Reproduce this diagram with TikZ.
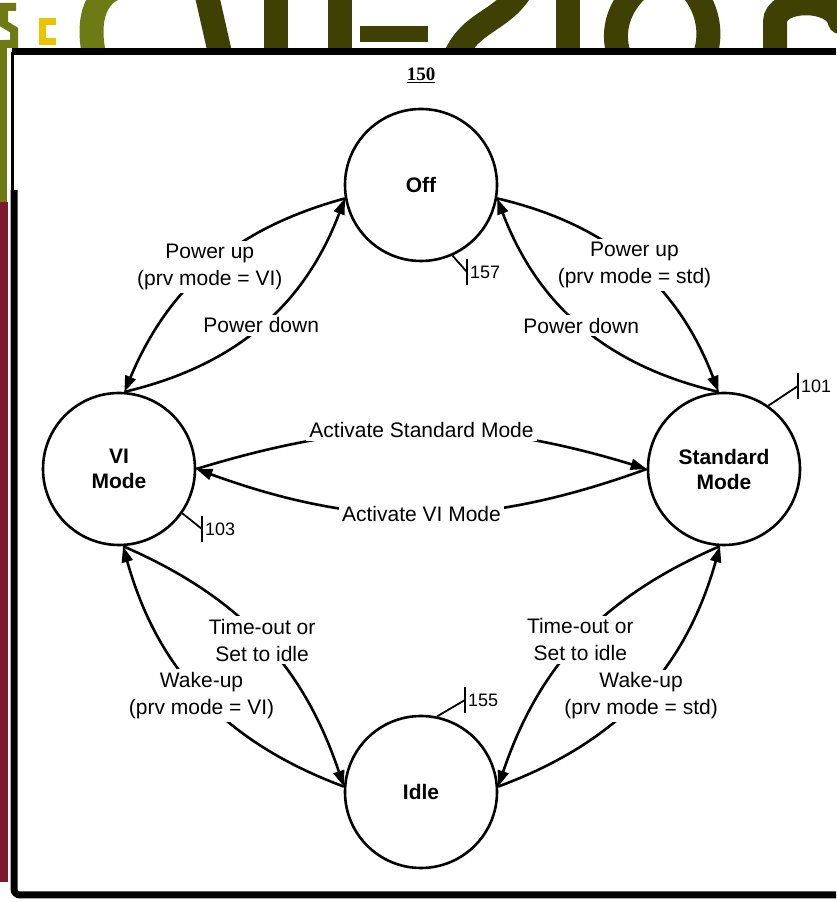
\documentclass[tikz,border=0pt]{standalone}
\usepackage{fontspec}
\setmainfont{Liberation Sans}
\newfontfamily\refserif{Liberation Serif}
\usetikzlibrary{arrows.meta}
\definecolor{olive1}{HTML}{6E7A14}
\definecolor{olive2}{HTML}{3E4004}
\definecolor{mustard}{HTML}{EBC400}
\definecolor{wine}{HTML}{7A1A2C}
\tikzset{
  state/.style={circle,draw,line width=2.6pt,minimum size=152pt,inner sep=0pt,
    align=center,font=\fontsize{21}{25}\selectfont\bfseries},
  trans/.style={line width=2.6pt,-{Triangle[length=16pt,width=11pt]}},
  lbl/.style={fill=white,align=center,inner sep=3pt,font=\fontsize{21}{27}\selectfont},
  refnum/.style={anchor=west,minimum height=25pt,inner sep=0pt,
    font=\fontsize{18}{20}\selectfont},
  refbar/.style={line width=1.8pt},
  letter/.style={line width=24pt,line cap=round},
}
\begin{document}
\begin{tikzpicture}[x=1pt,y=1pt]
  \useasboundingbox (0,0) rectangle (836,902);
  % page behind the figure
  \fill[olive1] (0,692) rectangle (7,862);
  \fill[wine] (0,20) rectangle (8,700);
  \draw[olive1,line width=8pt] (16,895) -- (4,895) -- (4,878) -- (14,872) -- (14,858) -- (3,858);
  \draw[mustard,line width=7pt] (56,880) -- (42,880) -- (42,860) -- (56,860);
  \draw[letter,olive1] (118,915) .. controls (88,905) and (88,868) .. (96,840);
  \draw[letter,olive2] (205,915) -- (222,840);
  \draw[letter,olive2] (276,915) -- (276,840);
  \draw[letter,olive2] (340,915) -- (340,840);
  \draw[olive2,line width=16pt] (360,868) -- (428,868);
  \draw[letter,olive2] (520,910) .. controls (500,880) and (470,880) .. (455,845);
  \draw[letter,olive2] (568,915) -- (568,840);
  \draw[letter,olive2] (640,915) .. controls (612,890) and (612,860) .. (622,840);
  \draw[letter,olive2] (690,915) .. controls (712,890) and (712,860) .. (702,840);
  \draw[letter,olive2] (775,840) -- (775,880) .. controls (775,905) and (836,905) .. (840,880);
  % frame
  \fill[white] (14,7) rectangle (836,850);
  \draw[line width=7pt] (836,850) -- (12,850);
  \draw[line width=3pt] (12,850) -- (12,712);
  \draw[line width=7pt,rounded corners=6pt] (14,712) -- (14,7) -- (836,7);

  \node[font=\refserif\fontsize{19}{20}\selectfont\bfseries] (fig) at (421,827) {\underline{150}};

  \node[state] (off) at (421,717) {Off};
  \node[state] (vi) at (119,433) {VI\\Mode};
  \node[state] (std) at (724,433) {Standard\\Mode};
  \node[state] (idle) at (421,110) {Idle};

  \draw[trans] (off.190) to[bend right=26] node[lbl] {Power up\\(prv mode = VI)} (vi.86);
  \draw[trans] (vi.86) to[bend right=28] node[lbl] {Power down} (off.190);
  \draw[trans] (off.350) to[bend left=28] node[lbl] {Power up\\(prv mode = std)} (std.94);
  \draw[trans] (std.94) to[bend left=28] node[lbl] {Power down} (off.350);
  \draw[trans] (vi.0) to[bend left=17] node[lbl] {Activate Standard Mode} (std.180);
  \draw[trans] (std.180) to[bend left=20] node[lbl] {Activate VI Mode} (vi.0);
  \draw[trans] (vi.273) to[bend left=24] node[lbl] {Time-out or\\Set to idle} (idle.176);
  \draw[trans] (idle.176) to[bend left=27] node[lbl] {Wake-up\\(prv mode = VI)} (vi.273);
  \draw[trans] (std.267) to[bend right=24] node[lbl] {Time-out or\\Set to idle} (idle.4);
  \draw[trans] (idle.4) to[bend right=27] node[lbl] {Wake-up\\(prv mode = std)} (std.267);

  % reference numerals
  \node[refnum] (n157) at (467,630) {\,157};
  \node[refnum] (n101) at (798,516) {\,101};
  \node[refnum] (n103) at (202,373) {\,103};
  \node[refnum] (n155) at (465,202) {\,155};
  \foreach \n in {n157,n101,n103,n155}
    \draw[refbar] (\n.north west) -- (\n.south west);
  \draw[refbar] (off.-66) -- (n157.west);
  \draw[refbar] (std.55) -- (n101.west);
  \draw[refbar] (vi.-35) -- (n103.west);
  \draw[refbar] (idle.78) -- (n155.west);
\end{tikzpicture}
\end{document}
